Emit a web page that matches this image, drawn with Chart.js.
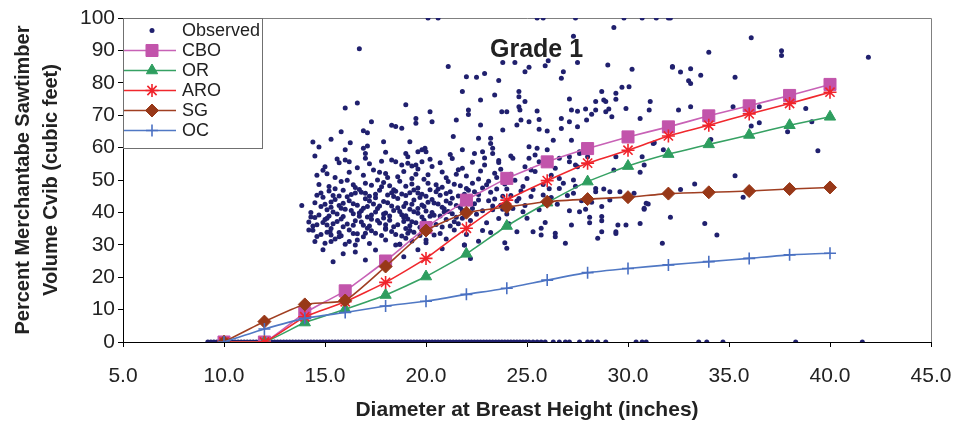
<!DOCTYPE html>
<html>
<head>
<meta charset="utf-8">
<title>Grade 1</title>
<script src="https://cdn.jsdelivr.net/npm/chart.js@4.4.1/dist/chart.umd.min.js"></script>
<style>
    html, body { margin: 0; padding: 0; background: #fff; }
    #wrap { width: 956px; height: 425px; }
</style>
</head>
<body>
<div id="wrap"><canvas id="chart" width="956" height="425"></canvas></div>
<script>
// ==================== DATA ====================

const dbh = [10, 12, 14, 16, 18, 20, 22, 24, 26, 28, 30, 32, 34, 36, 38, 40];

const cbo = [0, 0, 9.0, 15.8, 25.0, 35.3, 43.8, 50.5, 55.6, 59.7, 63.3, 66.4, 69.8, 72.9, 76.1, 79.5];
const orr = [0, 0, 6.0, 10.1, 14.5, 20.2, 27.2, 35.8, 43.0, 49.5, 54.3, 58.0, 61.0, 63.9, 66.9, 69.5];
const aro = [0, 0, 7.8, 12.4, 18.4, 25.8, 35.1, 43.8, 49.8, 55.2, 59.2, 63.6, 66.9, 70.4, 73.6, 77.1];
const sg  = [0, 6.3, 11.6, 12.8, 23.3, 34.4, 39.9, 41.7, 43.3, 44.1, 44.7, 45.8, 46.2, 46.6, 47.2, 47.7];
const oc  = [0, 4.0, 7.3, 9.1, 11.1, 12.6, 14.7, 16.6, 19.1, 21.4, 22.7, 23.8, 24.8, 25.8, 26.9, 27.4];

// observed trees (dbh, percent)
const observed = [
    [16.7,90.5],[16.6,73.8],[16.0,72.2],[14.4,61.7],[14.5,57.4],[14.7,60.2],[15.3,62.6],[15.8,64.9],
    [15.6,56.5],[15.1,51.9],[13.85,42.1],[14.3,38.6],[16.9,65.2],[17.1,64.6],[17.3,68],[18.3,66.9],
    [18.5,66.5],[18.8,66],[19.0,73.2],[19.5,69],[19.5,67.5],[20.2,71.1],[20.3,68],[21.1,85],
    [21.8,77.3],[22.0,81.9],[22.1,71.6],[22.1,70.2],[21.5,68.5],[21.35,63.4],[20.1,100],[20.6,100],
    [25.5,100],[25.8,100],[27.4,100],[29.8,100],[30.7,100],[31.4,100],[32.0,100],[32.1,100],
    [29.3,97.1],[27.3,94.4],[36.1,93.9],[34.0,89.4],[37.6,89.9],[37.6,88.4],[41.9,87.9],[35.3,81.7],
    [32.2,85],[32.6,83.3],[33.1,84.3],[33.6,82.3],[33.0,80.6],[33.1,79.8],[32.5,71.6],[33.1,72.6],
    [35.2,72.6],[36.5,72.6],[36.5,67.7],[36.1,66.7],[37.9,64.9],[38.8,72.1],[39.1,68],[39.4,59],
    [35.3,51.3],[35.7,44.7],[33.3,48.8],[32.6,47.1],[32.1,38.5],[34.1,62.5],[31.25,61.3],[30.7,57.2],
    [30.8,54.6],[30.6,52.4],[30.9,42.8],[30.8,41.0],
    [24.0,28.9],[25.3,34.0],[25.7,35.1],[25.7,33.0],[26.4,33.6],[26.4,32.5],[26.9,30.5],[27.2,36.1],
    [28.1,38.5],[28.1,36.8],[28.7,37.4],[28.7,38.7],[28.7,34.0],[28.5,32.0],[29.4,34],[29.4,33.5],
    [29.5,36.1],[29.9,36.1],[30.6,36.6],[30.8,41.3],[31.0,42.6],[31.7,30.5],[33.8,36.6],[34.4,33.0],
    [27.1,40.5],[27.9,41],[28.7,41.8],
    [23.8,86.3],[24.4,86.3],[25.1,84.8],[24.9,83.4],[26.05,86.8],[25.9,85.3],[27.5,86.3],[26.8,83.4],
    [26.7,81.4],[22.5,81.7],[22.9,82.9],[23.6,80.7],[24.6,77.3],[24.6,75.7],[23.4,76.2],[22.7,74.7],
    [24.9,74.2],[24.6,72.6],[27.1,75.0],[28.7,77.3],[29.0,85.5],[30.2,84.2],[29.4,76.8],[29.7,78.6],
    [30.05,78.8],[31.1,74.2],[28.8,74.7],[28.9,74.2],[28.4,74.2],[29.4,74.9],[29.9,72.1],[31.05,71.6],
    [32.2,84.8],[22.7,67.0],[22.6,62.9],[23.2,62.9],[23.3,59.8],[23.8,65.4],[23.75,71.1],[24.0,71.1],
    [24.65,71.6],[24.7,68.5],[24.5,67.0],[25.1,68.0],[25.5,71.3],[25.6,68.7],[25.6,65.7],[26.0,65.1],
    [26.0,59.3],[26.3,62.3],[26.7,69.0],[26.7,65.9],[27.2,71.6],[27.5,71.2],[27.9,71.9],[27.95,68.5],
    [28.2,70.3],[27.5,66.4],[27.1,68],[27.2,62.3],[27.1,57.2],[27.6,58.7],[28.0,57.2],[28.4,71.6],
    [28.9,71.1],[29.2,69.5],[29.05,71.9],[30.6,69.0],[31.3,61.5],[29.4,57.2],[29.3,53.1],[31.75,59.3],
    [21.8,59.3],[22.4,58.2],[22.8,58.7],[23.2,61.3],[23.3,58.2],[23.6,56.0],[23.7,53.3],[24.2,57.4],
    [24.3,56.7],[25.1,56.7],[24.9,54.1],[25.2,53.1],[25.5,59.8],[25.4,57.7],[25.6,55.6],[25.1,60.3],
    [26.6,56.7],[26.4,53.6],[27.1,55.6],[27.4,54.6],[27.5,54.1],[26.2,51.5],[26.6,50.5],[26.8,49.0],
    [27.3,50.0],[27.6,58.2],[26.6,47.4],[27.3,45.9],[27.4,48.1],[28.4,47.4],[28.4,46.4],[29.1,46.4],
    [29.6,46.4],[29.1,43.8],[30.3,45.9],
    [16.25,61.5],[17.1,60.5],[16.9,59.8],[17.9,61.8],[19.2,61.8],[16.0,59.3],[16.0,56.2],[17.0,58.2],
    [17.0,56.7],[19.0,58.2],[19.1,57.2],[19.6,58.7],[19.8,59.3],[19.95,59.8],[20.0,58.7],[16.2,55.6],
    [18.3,56.2],[18.5,55.6],[18.8,54.6],[19.1,55.2],[19.3,54.3],[19.5,54.6],[19.8,55.6],[20.2,56.4],
    [21.2,57.9],[21.8,53.6],
    [14.2,34.6],[15.1,38.2],[15.1,36.1],[15.25,34.0],[15.3,33.0],[15.3,31.0],[15.4,24.8],[15.7,32.5],
    [16.2,31.0],[16.5,29.9],[17.0,33.6],[17.0,25.3],[18.0,35.1],[18.5,29.9],[18.7,30.2],[19.0,32.0],
    [19.1,33.6],[20.0,31.5],[21.9,29.9],[22.2,25.8],
    [15.2,48],[15.8,49.5],[16.4,48.5],[17.0,49],[17.6,50],[18.2,48.2],[18.7,49.6],[19.3,48.8],
    [19.9,50.2],[20.5,48.5],[21.1,49.5],[21.7,48.2],[22.3,49],[23.0,48.5],[16.9,51.5],[18.0,52],
    [19.5,51.8],[20.8,52.5],[22.0,51.2],[23.5,50.8],[14.6,51.5],
    [14.8,46],[15.4,45.2],[15.9,46.8],[16.3,45.5],[16.8,46.2],[17.2,45],[17.7,46.8],[18.1,45.4],
    [18.5,46.5],[19.0,45.2],[19.4,46.9],[19.8,45.6],[20.2,47],[20.7,45.3],[21.2,46.4],[21.6,45.1],
    [22.1,46.8],[22.6,45.5],[23.2,46.2],[23.8,45],
    [14.5,43],[15.0,42.5],[15.5,44],[15.9,42.8],[16.2,43.6],[16.6,42.2],[17.0,44.2],[17.4,42.6],
    [17.9,43.4],[18.3,42],[18.6,44.3],[19.0,42.8],[19.4,43.8],[19.8,42.3],[20.3,44],[20.6,42.6],
    [21.0,43.5],[21.5,42.1],[21.9,44.2],[22.4,42.7],[23.1,43.6],[23.7,42.2],[24.5,43.5],
    [14.3,40],[14.7,39.2],[15.1,40.8],[15.6,39.5],[16.0,41],[16.4,39.6],[16.8,40.5],[17.3,39.2],
    [17.6,41.2],[18.0,39.8],[18.4,40.6],[18.8,39.3],[19.2,41],[19.6,39.7],[20.0,40.4],[20.4,39.1],
    [20.9,41.1],[21.3,39.6],[21.8,40.6],[22.5,39.4],[23.3,40.8],[24.0,39.5],[24.8,40.2],
    [14.2,37],[14.6,36.2],[15.0,37.8],[15.4,36.5],[15.8,38],[16.1,36.4],[16.5,37.4],[16.9,36],
    [17.3,37.9],[17.7,36.7],[18.2,37.6],[18.6,36.2],[19.1,38],[19.5,36.8],[19.9,37.6],[20.5,36.3],
    [21.0,37.8],[21.6,36.5],[22.2,37.5],[23.0,36.8],[23.6,38.1],
    [14.4,34.5],[14.8,33.2],[15.3,35],[15.7,33.8],[16.2,34.6],[16.6,33.4],[17.1,35.1],[17.5,33.6],
    [18.0,34.8],[18.5,33.2],[19.0,35],[19.4,33.9],[20.1,34.2],[20.7,33.5],[21.4,34.6],[22.0,33.2],
    [22.8,34.4],
    [14.5,31],[15.0,30.5],[15.5,31.8],[16.0,30.2],[16.6,31.5],[17.2,30.4],[18.0,31.5],[18.7,30.2],
    [19.3,31.2],[20.0,30.6],[21.0,31.8],[21.9,29.9],[22.6,31.1],
    [14.9,28.5],[16.5,27.8],[17.5,28.4],[18.9,26.3],[19.6,28.5],[20.8,28.8],[15.9,27.2],
    [15.3,41.6],[16.1,44.8],[17.1,41.8],[17.8,47.9],[18.6,41.4],[19.2,46.1],[19.9,41.8],[20.6,47.2],
    [21.3,44.4],[21.8,38.2],[16.5,47.7],[18.9,38.4],[20.2,38.8],[15.7,42.1],[17.5,44.5],[18.4,44.9],
    [19.7,44.6],[20.9,40.1],[22.3,41.2],[14.9,44.7],[16.7,38.8],[17.9,38.3],[19.3,37.1],[21.2,35.8],
    [20.4,42.9],[15.2,38.9],[18.1,50.8],[19.6,53.4],[17.4,53.1],[16.2,52.4],[20.3,54.2],[21.6,53.2],
    [22.9,54.6],[15.0,54.1],[15.7,55.3],[17.8,55.8],[18.9,52.6],
    [22.8,47.5],[23.4,44.1],[23.9,48.8],[24.3,41.2],[24.7,46.6],[25.2,44.9],[25.6,40.8],[26.1,47.3],
    [26.5,42.5],[27.0,45.2],[27.6,40.2],[28.2,43.1],[28.8,47.2],[25.0,38.2],[24.1,36.5],[23.2,33.8],
    [25.9,36.9],[22.7,52.8],[23.6,55.4],[24.2,51.8],[25.4,52.6],[26.2,44.6],[27.7,43.6],[24.5,34.0],
    [23.9,30.6],[22.3,55.5],[22.9,56.8],[23.4,52.1],[22.6,50.3],[23.1,49.6],[24.0,47.2],[24.4,49.9],
    [25.0,50.5],[25.8,48.6],[24.6,44.3],
    [14.7,48.6],[15.5,47.3],[16.1,49.9],[16.7,47.1],[17.3,48.4],[17.9,49.2],[18.4,47.0],[19.0,48.1],
    [19.6,47.5],[20.1,49.0],[20.8,47.8],[21.4,48.7],[22.0,47.4],
    [14.6,45.3],[15.2,46.6],[15.7,45.1],[16.5,46.0],[17.0,45.9],[17.5,45.6],[18.3,46.1],[18.8,45.7],
    [19.6,46.0],[20.0,45.0],[20.5,46.4],[21.0,45.8],[21.9,45.6],[22.4,46.4],
    [14.8,41.8],[15.3,43.2],[15.8,41.3],[16.4,42.7],[16.9,41.3],[17.2,43.5],[17.7,42.0],[18.1,43.0],
    [18.9,41.8],[19.3,42.5],[19.6,41.2],[20.1,43.1],[20.8,41.6],[21.2,42.8],[21.7,41.5],[22.1,43.0],
    [14.5,38.4],[15.4,40.1],[15.9,38.7],[16.3,40.6],[16.7,39.8],[17.1,38.6],[17.5,40.1],[17.9,39.5],
    [18.2,38.9],[18.7,40.3],[19.0,39.0],[19.4,40.2],[19.8,38.6],[20.3,40.0],[20.7,38.9],[21.1,40.3],
    [21.5,38.5],
    [14.4,35.8],[14.9,36.9],[15.6,37.2],[15.9,35.6],[16.4,36.0],[16.8,37.0],[17.2,35.8],[17.6,37.5],
    [18.0,36.2],[18.4,35.6],[18.9,37.2],[19.2,35.9],[19.7,35.4],[20.2,36.6],[20.8,35.5],[21.4,37.1],
    [14.6,32.6],[15.1,33.9],[15.8,32.8],[16.4,33.5],[16.9,32.5],[17.3,34.3],[17.8,32.9],[18.3,34.1],
    [18.8,32.7],[19.2,34.4],[19.7,32.9],[20.4,33.0],
    [14.9,53.0],[15.5,50.8],[16.6,53.8],[17.7,52.4],[18.6,51.0],[19.3,50.5],[20.1,51.6],[21.0,50.7],
    [21.5,51.8],[17.2,55.0],[20.7,55.3],[21.3,56.6],[18.0,58.6],
    [22.8,40.5],[23.3,42.0],[23.8,41.0],[24.2,45.2],[22.6,43.8],[23.5,47.2],[24.8,48.0],[25.3,47.1],
    [25.8,45.4],[24.9,42.1]
];

// observed trees that had no merchantable sawtimber (percent = 0)
const observedZeroX = [
    9.2, 9.35, 9.5, 9.65, 9.8, 9.95, 10.1, 10.25, 10.4, 10.55, 10.7, 10.85, 11.0, 11.15, 11.3, 11.45,
    11.6, 11.75, 11.9, 12.05, 12.2, 12.35, 12.5, 12.65, 12.8, 12.95, 13.1, 13.25, 13.4, 13.55, 13.7,
    13.85, 14.0, 14.15, 14.3, 14.45, 14.6, 14.75, 14.9, 15.05, 15.2, 15.35, 15.5, 15.65, 15.8, 15.95,
    16.1, 16.25, 16.4, 16.55, 16.7, 16.85, 17.0, 17.15, 17.3, 17.45, 17.6, 17.75, 17.9, 18.05, 18.2,
    18.35, 18.5, 18.65, 18.8, 18.95, 19.1, 19.25, 19.4, 19.55, 19.7, 19.85, 20.0, 20.15, 20.3, 20.45,
    20.6, 20.75, 20.9, 21.05, 21.2, 21.35, 21.5, 21.65, 21.8, 21.95, 22.1, 22.25, 22.4, 22.55, 22.7,
    22.85, 23.0, 23.15, 23.3, 23.45, 23.6, 23.75, 23.9, 24.05, 24.2, 24.35, 24.5, 24.65, 24.8, 24.95,
    25.1, 25.3, 25.5, 25.7, 25.9, 26.3, 26.6, 26.9, 27.1, 27.6, 28.0, 28.2, 28.5, 28.9, 30.4, 30.7,
    30.9, 33.5, 33.9, 34.7, 38.3, 41.6
];

const xTicks = [5, 10, 15, 20, 25, 30, 35, 40, 45];
const yTicks = [0, 10, 20, 30, 40, 50, 60, 70, 80, 90, 100];

// ==================== CHART ====================

const FONT = '"Liberation Sans", Arial, Helvetica, sans-serif';
const TEXT = '#222222';

function pairs(ys) {
    return dbh.map((x, i) => ({ x: x, y: ys[i] }));
}

const observedPoints = observed.map(p => ({ x: p[0], y: p[1] }))
    .concat(observedZeroX.map(x => ({ x: x, y: 0 })));

const series = [
    { label: 'CBO', data: cbo, color: '#c254ab', line: '#c862b6', style: 'rect', radius: 8.5, order: 5 },
    { label: 'OR', data: orr, color: '#2e9e5f', line: '#36a163', style: 'triangle', radius: 6.5, order: 4 },
    { label: 'ARO', data: aro, color: '#f0232b', line: '#f0282d', style: 'star', radius: 6.5, order: 3 },
    { label: 'SG', data: sg, color: '#983818', line: '#a03f22', style: 'rectRot', radius: 6.5, order: 2 },
    { label: 'OC', data: oc, color: '#4a70c2', line: '#5078c4', style: 'cross', radius: 6, order: 1 }
];

const datasets = [{
    label: 'Observed',
    type: 'scatter',
    data: observedPoints,
    pointStyle: 'circle',
    pointRadius: 2.5,
    pointBorderWidth: 0,
    backgroundColor: '#20206e',
    borderColor: '#20206e',
    showLine: false,
    order: 10
}].concat(series.map(s => ({
    label: s.label,
    type: 'line',
    data: pairs(s.data),
    borderColor: s.line,
    borderWidth: 1.6,
    backgroundColor: s.color,
    pointStyle: s.style,
    pointRadius: s.radius,
    pointBorderColor: s.color,
    pointBackgroundColor: s.color,
    pointBorderWidth: (s.style === 'star' || s.style === 'cross') ? 1.6 : 1,
    tension: 0.15,
    fill: false,
    order: s.order
})));

// grey frame round the plot area (top and right)
const framePlugin = {
    id: 'frame',
    beforeDatasetsDraw(chart) {
        const { ctx, chartArea: a } = chart;
        ctx.save();
        ctx.strokeStyle = '#808080';
        ctx.lineWidth = 1;
        ctx.beginPath();
        ctx.moveTo(a.left, a.top + 0.5);
        ctx.lineTo(a.right + 0.5, a.top + 0.5);
        ctx.lineTo(a.right + 0.5, a.bottom);
        ctx.stroke();
        ctx.restore();
    }
};

// "Grade 1" and legend box inside the plot
const overlayPlugin = {
    id: 'overlay',
    afterDraw(chart) {
        const { ctx, chartArea: a } = chart;
        ctx.save();

        ctx.font = 'bold 25px ' + FONT;
        ctx.fillStyle = TEXT;
        ctx.textAlign = 'left';
        ctx.textBaseline = 'alphabetic';
        ctx.fillText('Grade 1', 490, 57);

        const bx = a.left, by = a.top, bw = 139, bh = 130;
        ctx.fillStyle = '#ffffff';
        ctx.fillRect(bx, by, bw, bh);
        ctx.strokeStyle = '#707070';
        ctx.lineWidth = 1;
        ctx.strokeRect(bx + 0.5, by + 0.5, bw, bh);

        const rows = [{ label: 'Observed', style: 'circle', radius: 2.5, color: '#20206e' }].concat(series);
        rows.forEach((r, i) => {
            const y = by + 12.5 + i * 20;
            if (i > 0) {
                ctx.strokeStyle = r.line;
                ctx.lineWidth = 1.6;
                ctx.beginPath();
                ctx.moveTo(bx + 1, y);
                ctx.lineTo(bx + 53, y);
                ctx.stroke();
            }
            ctx.fillStyle = r.color;
            ctx.strokeStyle = r.color;
            ctx.lineWidth = (r.style === 'star' || r.style === 'cross') ? 1.6 : 1;
            Chart.helpers.drawPoint(ctx, {
                pointStyle: r.style,
                radius: r.radius,
                rotation: 0,
                borderWidth: i === 0 ? 0 : ctx.lineWidth
            }, bx + 29, y);

            ctx.fillStyle = TEXT;
            ctx.font = '18px ' + FONT;
            ctx.textBaseline = 'middle';
            ctx.textAlign = 'left';
            ctx.fillText(r.label, bx + 59, y + 1);
        });
        ctx.restore();
    }
};

new Chart(document.getElementById('chart'), {
    data: { datasets: datasets },
    plugins: [framePlugin, overlayPlugin],
    options: {
        responsive: false,
        animation: false,
        layout: { padding: { left: 0, top: 18, right: 25, bottom: 0 } },
        plugins: {
            legend: { display: false },
            tooltip: { enabled: false }
        },
        scales: {
            x: {
                type: 'linear',
                min: xTicks[0],
                max: xTicks[xTicks.length - 1],
                afterFit: scale => {
                    scale.height = 83;
                    // the outer labels fit inside the layout padding, no extra room needed
                    scale.paddingLeft = 0;
                    scale.paddingRight = 0;
                },
                afterBuildTicks: scale => { scale.ticks = xTicks.map(v => ({ value: v })); },
                grid: { drawOnChartArea: false, drawTicks: true, tickLength: 5, tickColor: '#000' },
                border: { color: '#000', width: 1 },
                ticks: {
                    color: TEXT,
                    font: { family: FONT, size: 21 },
                    padding: 17,
                    maxRotation: 0,
                    autoSkip: false,
                    callback: v => Number(v).toFixed(1)
                },
                title: {
                    display: true,
                    text: 'Diameter at Breast Height (inches)',
                    color: TEXT,
                    font: { family: FONT, size: 21, weight: 'bold' },
                    padding: { top: 0, bottom: 2 }
                }
            },
            y: {
                type: 'linear',
                min: yTicks[0],
                max: yTicks[yTicks.length - 1],
                afterFit: scale => { scale.width = 123; },
                afterBuildTicks: scale => { scale.ticks = yTicks.map(v => ({ value: v })); },
                grid: { drawOnChartArea: false, drawTicks: true, tickLength: 5, tickColor: '#000' },
                border: { color: '#000', width: 1 },
                ticks: {
                    color: TEXT,
                    font: { family: FONT, size: 21 },
                    padding: 3,
                    autoSkip: false
                },
                title: {
                    display: true,
                    text: ['Percent Merchantabe Sawtimber', 'Volume Cvib (cubic feet)'],
                    color: TEXT,
                    font: { family: FONT, size: 20, weight: 'bold', lineHeight: '28px' },
                    padding: { top: 9, bottom: 0 }
                }
            }
        }
    }
});
</script>
</body>
</html>
